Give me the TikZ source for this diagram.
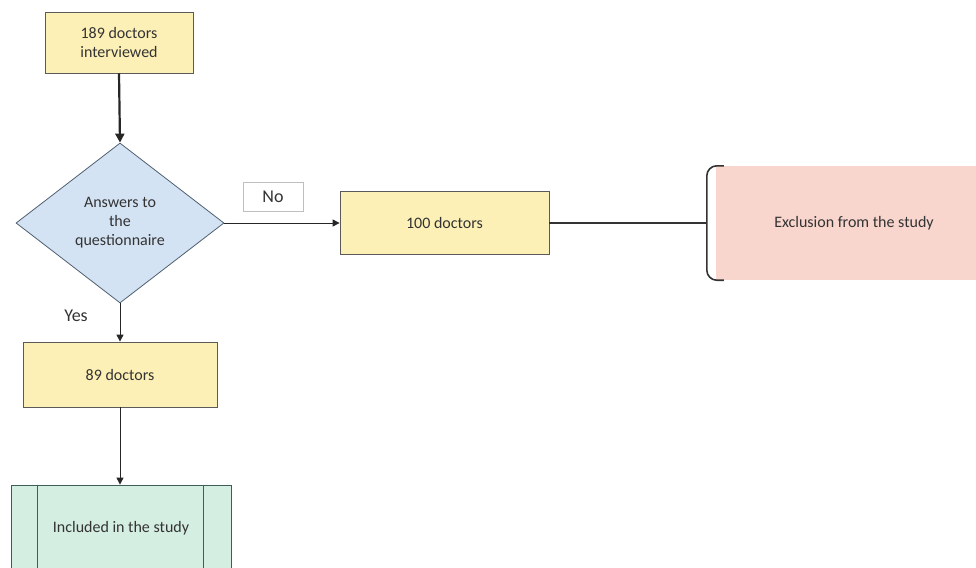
\documentclass[tikz,border=0pt]{standalone}
\usepackage{fontspec}
\setmainfont{Carlito}
\usetikzlibrary{shapes.geometric,arrows.meta}
\definecolor{boxyellow}{HTML}{FCF0B6}
\definecolor{boxblue}{HTML}{D4E3F3}
\definecolor{boxpink}{HTML}{F8D5CD}
\definecolor{boxgreen}{HTML}{D5EEE2}
\definecolor{edgegray}{HTML}{5A5A5A}
\definecolor{edgeblue}{HTML}{4F6070}
\definecolor{edgegreen}{HTML}{3F5E57}
\definecolor{textgray}{HTML}{333333}

\begin{document}
    \begin{tikzpicture}[x=1pt,y=-1pt,
            font=\fontsize{16}{19}\selectfont,
            arr/.style={-{Triangle[length=7pt,width=7pt]},line width=1pt,black!85},
            lbl/.style={font=\fontsize{18}{20}\selectfont,text=textgray}]
        \useasboundingbox (0,0) rectangle (976,567);
        \clip (0,0) rectangle (976,567);
        \begin{scope}[every node/.style={rectangle,thick,draw=edgegray,fill=boxyellow,text=textgray,align=center,inner sep=0pt}]
            \node[minimum width=148pt, minimum height=61pt] (start) at (119,42.5) {189 doctors\\interviewed};
            \node[minimum width=209pt, minimum height=63pt] (hundred) at (444.5,223) {100 doctors};
            \node[minimum width=194pt, minimum height=65pt] (ninety) at (120,374.5) {89 doctors};
        \end{scope}
        \node[diamond, thick, draw=edgeblue, fill=boxblue, text=textgray, align=center, inner sep=0pt,
            minimum width=208pt, minimum height=160pt] (quest) at (120,223) {Answers to\\the\\questionnaire};
        \node[rectangle, fill=boxpink, text=textgray, inner sep=0pt,
            minimum width=276pt, minimum height=114pt] (excl) at (854,223) {Exclusion from the study};
        \draw[line width=1.6pt, black!80, rounded corners=10pt] ([xshift=8pt]excl.north west) -- ([xshift=-9pt]excl.north west)
            -- ([xshift=-9pt]excl.south west) -- ([xshift=8pt]excl.south west);
        \coordinate (bracetip) at ([xshift=-9pt]excl.west);
        \node[rectangle, thick, draw=edgegreen, fill=boxgreen, text=textgray, inner sep=0pt,
            minimum width=220pt, minimum height=86pt] (incl) at (121,528) {Included in the study};
        \draw[thick, edgegreen] ([xshift=27pt]incl.north west) -- ([xshift=27pt]incl.south west);
        \draw[thick, edgegreen] ([xshift=-28pt]incl.north east) -- ([xshift=-28pt]incl.south east);

        \node[rectangle, draw=black!25, fill=white, lbl, minimum width=60pt, minimum height=29pt] (no) at (273,196.5) {No};
        \node[lbl] (yes) at (76,316) {Yes};

        \draw[-{Triangle[length=9pt,width=9pt]}, line width=2.2pt, black!85] (start.south) -- (quest.north);
        \draw[arr] (quest.east) -- (hundred.west);
        \draw[line width=1.6pt, black!80] (hundred.east) -- (bracetip);
        \draw[arr] (quest.south) -- (ninety.north);
        \draw[arr] (ninety.south) -- (ninety.south |- incl.north);
    \end{tikzpicture}
\end{document}
